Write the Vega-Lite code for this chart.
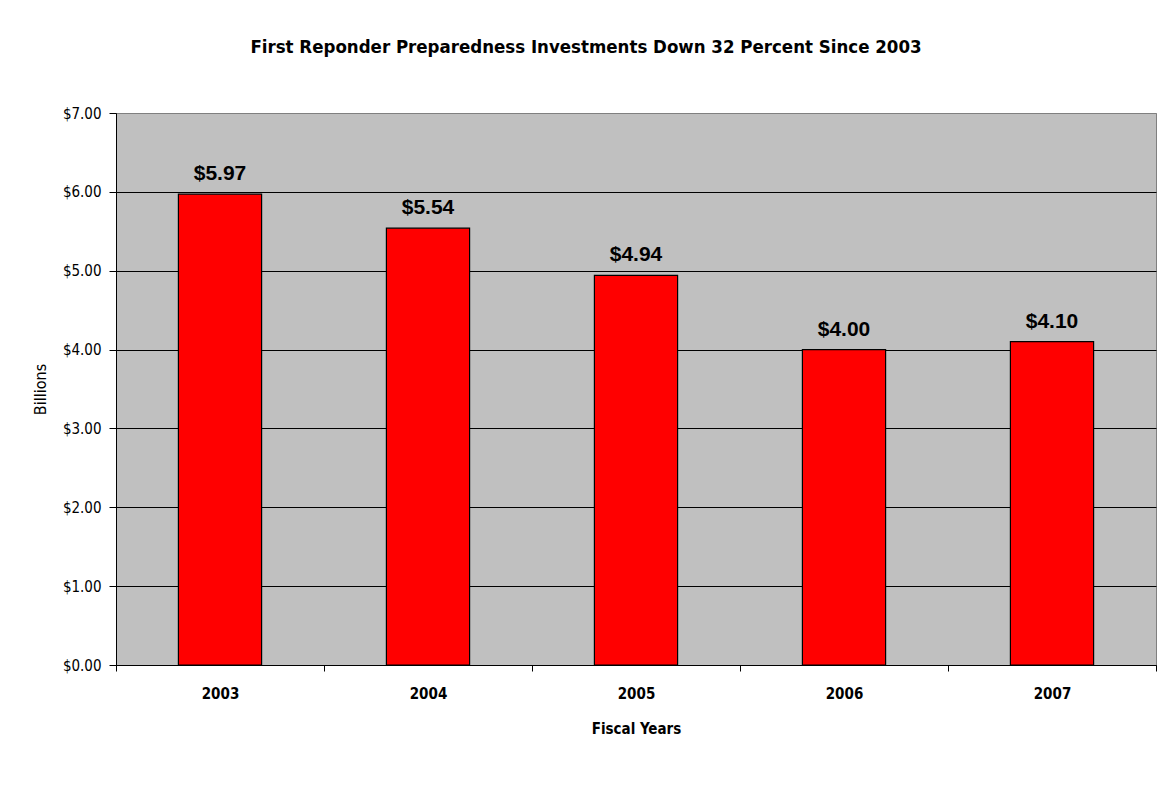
{
  "$schema": "https://vega.github.io/schema/vega-lite/v6.json",
  "autosize": {"type": "none"},
  "padding": {"left": 116, "top": 113, "right": 5, "bottom": 129},
  "width": 1040,
  "height": 552,
  "background": "white",
  "title": {
    "text": "First Reponder Preparedness Investments Down 32 Percent Since 2003",
    "font": "DejaVu Sans Condensed, Liberation Sans, sans-serif",
    "fontSize": 18.5,
    "fontWeight": "bold",
    "color": "#000000",
    "anchor": "middle",
    "frame": "group",
    "dx": -50,
    "offset": 50
  },
  "config": {
    "view": {"fill": "#C0C0C0", "stroke": "#808080", "strokeWidth": 1},
    "axis": {"labelFont": "DejaVu Sans Condensed, Liberation Sans, sans-serif", "titleFont": "DejaVu Sans Condensed, Liberation Sans, sans-serif", "labelColor": "#000000", "titleColor": "#000000"}
  },
  "data": {
    "values": [
      {"year": "2003", "amount": 5.97},
      {"year": "2004", "amount": 5.54},
      {"year": "2005", "amount": 4.94},
      {"year": "2006", "amount": 4.00},
      {"year": "2007", "amount": 4.10}
    ]
  },
  "encoding": {
    "x": {
      "field": "year",
      "type": "nominal",
      "scale": {"paddingInner": 0, "paddingOuter": 0},
      "axis": {
        "title": "Fiscal Years",
        "labelAngle": 0,
        "labelFontSize": 15,
        "labelFontWeight": "bold",
        "labelPadding": 15,
        "titleFontSize": 15,
        "titleFontWeight": "bold",
        "titlePadding": 20,
        "tickBand": "extent",
        "tickSize": 6,
        "tickColor": "#000000",
        "domainColor": "#000000",
        "grid": false
      }
    },
    "y": {
      "field": "amount",
      "type": "quantitative",
      "scale": {"domain": [0, 7]},
      "axis": {
        "title": "Billions",
        "values": [0, 1, 2, 3, 4, 5, 6, 7],
        "format": "$.2f",
        "labelFontSize": 15,
        "labelPadding": 8,
        "titleFontSize": 16,
        "titleFontWeight": "normal",
        "titlePadding": 14,
        "tickSize": 7,
        "tickColor": "#000000",
        "domainColor": "#000000",
        "grid": true,
        "gridColor": {"condition": {"test": "datum.value == 7", "value": "#808080"}, "value": "#000000"},
        "gridOpacity": 1
      }
    }
  },
  "layer": [
    {
      "mark": {"type": "bar", "color": "#FF0000", "stroke": "#000000", "strokeWidth": 1.2, "width": {"band": 0.4}}
    },
    {
      "mark": {"type": "text", "font": "Liberation Sans", "fontSize": 21, "fontWeight": "bold", "color": "#000000", "baseline": "alphabetic", "dy": -14},
      "encoding": {
        "text": {"field": "amount", "type": "quantitative", "format": "$.2f"}
      }
    }
  ]
}
